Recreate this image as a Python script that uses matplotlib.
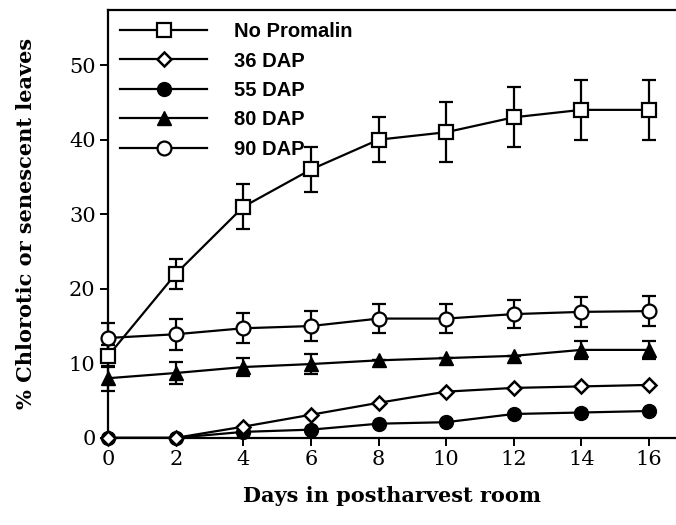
import numpy as np
import matplotlib.pyplot as plt

# data
days = [0, 2, 4, 6, 8, 10, 12, 14, 16]

no_promalin = [11, 22, 31, 36, 40, 41, 43, 44, 44]
no_promalin_err = [1.5, 2, 3, 3, 3, 4, 4, 4, 4]

dap36 = [0, 0, 1.5, 3.1, 4.7, 6.2, 6.7, 6.9, 7.1]
dap55 = [0, 0, 0.8, 1.1, 1.9, 2.1, 3.2, 3.4, 3.6]

dap80 = [8.0, 8.7, 9.5, 9.9, 10.4, 10.7, 11.0, 11.8, 11.8]
dap80_err = [1.7, 1.5, 1.2, 1.3, 0, 0, 0, 1.2, 1.2]

dap90 = [13.4, 13.9, 14.7, 15.0, 16.0, 16.0, 16.6, 16.9, 17.0]
dap90_err = [2, 2.1, 2, 2, 2, 2, 1.9, 2, 2]

fig = plt.figure(figsize=(6.76, 5.25), dpi=100)
ax = fig.add_axes([0.160, 0.166, 0.840, 0.815])

lw = 1.6
ekw = dict(ecolor='black', elinewidth=1.6, capsize=5, capthick=1.6)

e1 = ax.errorbar(days, no_promalin, yerr=no_promalin_err, color='black', lw=lw,
                 marker='s', ms=9.5, mfc='white', mec='black', mew=1.6,
                 zorder=3, **ekw)
l2, = ax.plot(days, dap36, color='black', lw=lw, marker='D', ms=7, mfc='white',
              mec='black', mew=1.8, zorder=4)
l3, = ax.plot(days, dap55, color='black', lw=lw, marker='o', ms=10, mfc='black',
              mec='black', zorder=3)
e4 = ax.errorbar(days, dap80, yerr=dap80_err, color='black', lw=lw,
                 marker='^', ms=10, mfc='black', mec='black',
                 zorder=3, **ekw)
e5 = ax.errorbar(days, dap90, yerr=dap90_err, color='black', lw=lw,
                 marker='o', ms=10, mfc='white', mec='black', mew=1.6,
                 zorder=3, **ekw)

# keep markers at the axis edges whole
for art in ax.get_children():
    try:
        art.set_clip_on(False)
    except Exception:
        pass

ax.set_xlim(0, 16.8)
ax.set_ylim(0, 57.4)
ax.set_xticks(days)
ax.set_yticks([0, 10, 20, 30, 40, 50])

for s in ['left', 'bottom', 'top']:
    ax.spines[s].set_linewidth(1.6)
ax.spines['right'].set_visible(False)
ax.tick_params(direction='out', length=6, width=1.4, top=False, right=False,
               labelsize=15, pad=3)
for lab in ax.get_xticklabels() + ax.get_yticklabels():
    lab.set_family('DejaVu Serif')

ax.set_xlabel('Days in postharvest room', family='DejaVu Serif',
              fontweight='bold', fontsize=15, labelpad=12)
ax.set_ylabel('% Chlorotic or senescent leaves', family='DejaVu Serif',
              fontweight='bold', fontsize=15, labelpad=24)

handles = [e1[0], l2, l3, e4[0], e5[0]]
labels = ['No Promalin', '36 DAP', '55 DAP', '80 DAP', '90 DAP']
leg = ax.legend(handles, labels, loc='upper left', frameon=False,
                handlelength=4.3, handletextpad=1.35, labelspacing=0.52,
                borderaxespad=0.4, borderpad=0.2,
                prop={'family': 'Liberation Sans', 'weight': 'bold', 'size': 14.5})

fig.savefig('out.png', dpi=100)
